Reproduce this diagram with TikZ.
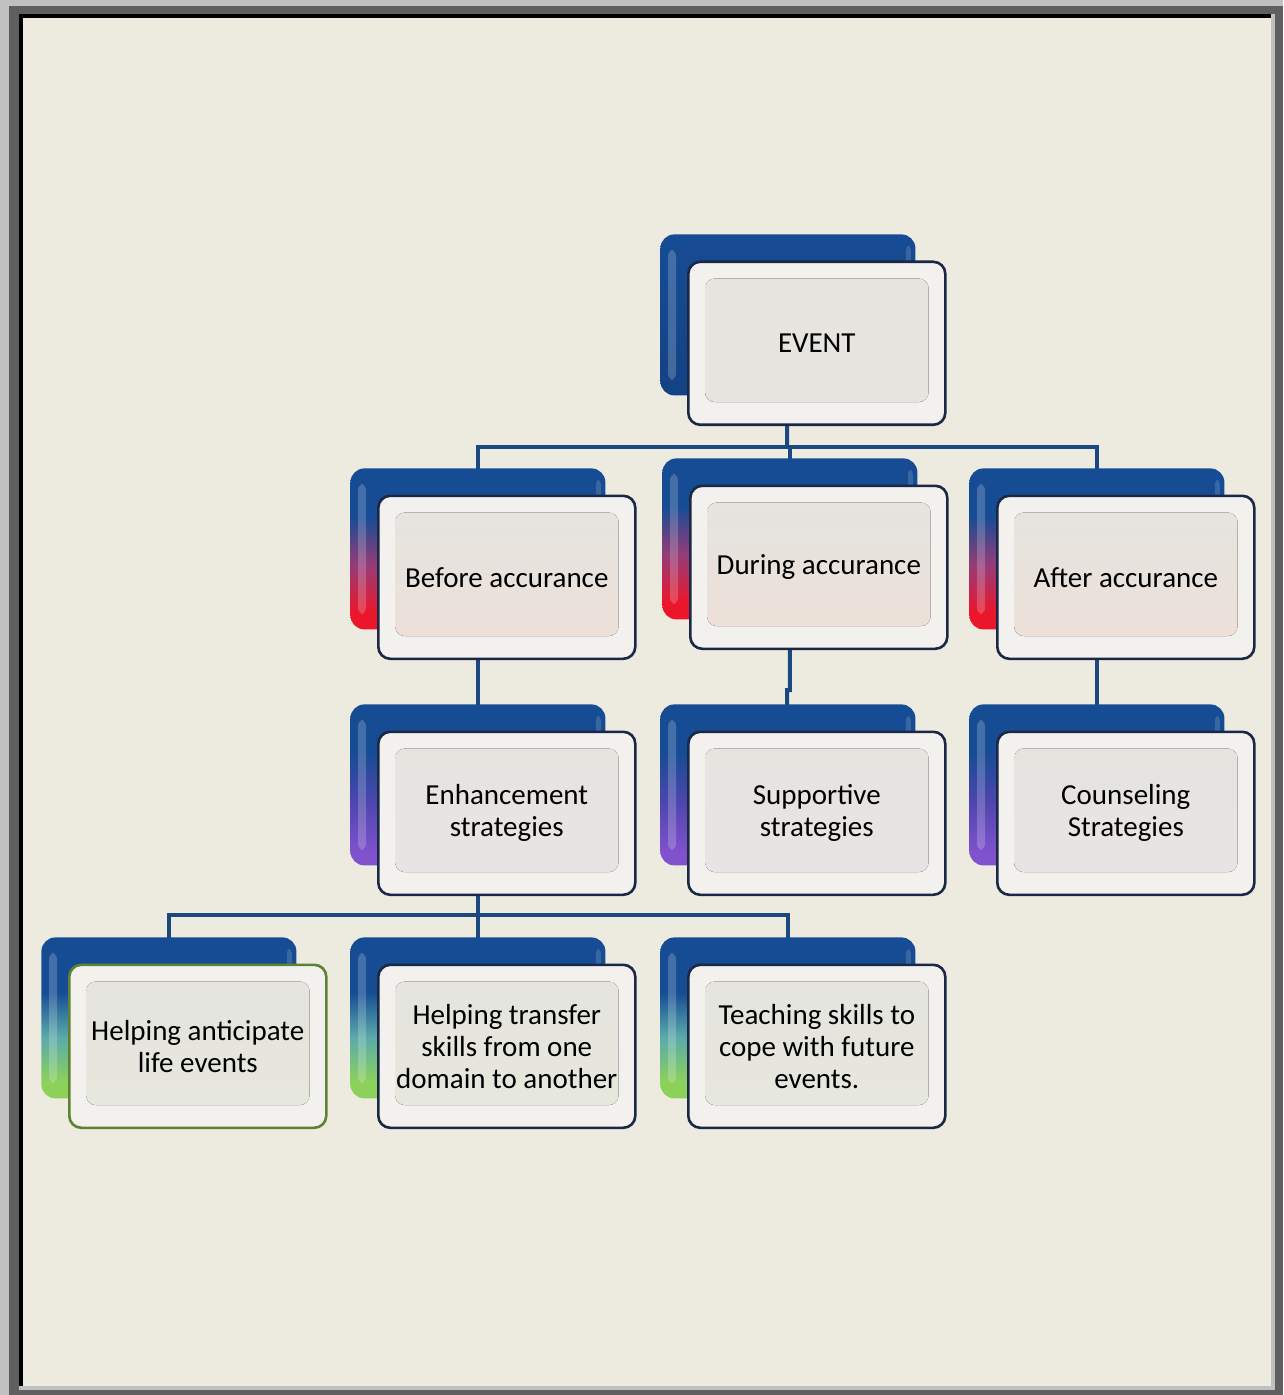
\documentclass[tikz,border=0pt]{standalone}
\usepackage{fontspec}
\setmainfont{Carlito}

\definecolor{pagebg}{RGB}{237,234,224}
\definecolor{frameDark}{RGB}{95,95,95}
\definecolor{frameLight}{RGB}{192,192,192}
\definecolor{linkblue}{RGB}{28,72,128}
\definecolor{tierblue}{RGB}{22,76,148}
\definecolor{tierdeep}{RGB}{20,66,132}
\definecolor{tierred}{RGB}{236,22,42}
\definecolor{tierredmid}{RGB}{150,60,120}
\definecolor{tierpurple}{RGB}{128,82,205}
\definecolor{tierpurplemid}{RGB}{80,70,175}
\definecolor{tiergreen}{RGB}{140,210,90}
\definecolor{tiergreenmid}{RGB}{90,170,170}
\definecolor{edgenavy}{RGB}{26,40,70}
\definecolor{edgegreen}{RGB}{95,130,50}
\definecolor{cardout}{RGB}{242,241,237}
\definecolor{cardin}{RGB}{229,228,223}
\definecolor{panelred}{RGB}{237,224,217}
\definecolor{panelpurple}{RGB}{232,228,229}
\definecolor{panelgreen}{RGB}{230,231,221}

% back-card shadings: blue on top, the tier colour below
% (the card's box spans 25bp..75bp of the shading)
\pgfdeclareverticalshading{tier-event}{100bp}{color(0bp)=(tierdeep); color(25bp)=(tierdeep);
  color(75bp)=(tierblue); color(100bp)=(tierblue)}
\pgfdeclareverticalshading{tier-red}{100bp}{color(0bp)=(tierred); color(30bp)=(tierred);
  color(45bp)=(tierredmid); color(60bp)=(tierblue); color(100bp)=(tierblue)}
\pgfdeclareverticalshading{tier-purple}{100bp}{color(0bp)=(tierpurple); color(29bp)=(tierpurple);
  color(44bp)=(tierpurplemid); color(60bp)=(tierblue); color(100bp)=(tierblue)}
\pgfdeclareverticalshading{tier-green}{100bp}{color(0bp)=(tiergreen); color(30bp)=(tiergreen);
  color(44bp)=(tiergreenmid); color(58bp)=(tierblue); color(100bp)=(tierblue)}

\pgfdeclarelayer{frame}
\pgfdeclarelayer{links}
\pgfsetlayers{frame,links,main}

\tikzset{
  backcard/.style={draw=none, rounded corners=7pt, minimum width=127.5pt,
    minimum height=80.5pt, anchor=north west, inner sep=0pt, shade, shading=#1},
  frontcard/.style={draw=#1, line width=1.3pt, rounded corners=6pt,
    minimum width=128.5pt, minimum height=81.5pt, anchor=north west,
    inner sep=0pt, top color=cardout, bottom color=cardout},
  cardtext/.style={align=center, font=\fontsize{14.5pt}{16pt}\selectfont,
    text=black, inner sep=0pt},
  link/.style={draw=linkblue, line width=2pt},
}

% one stacked card: name, left, top, back shading, edge colour of the
% front card, panel colour, text
\newcommand\tiercard[7]{%
  \node[backcard=#4] (#1b) at (#2,#3) {};
  \fill[white, opacity=0.2, rounded corners=3pt]
    ([shift={(4pt,-8pt)}]#1b.north west) rectangle ([shift={(8pt,8pt)}]#1b.south west);
  \fill[white, opacity=0.15, rounded corners=2pt]
    ([shift={(-5pt,-6pt)}]#1b.north east) rectangle ([shift={(-2.5pt,-20pt)}]#1b.north east);
  \node[frontcard=#5] (#1f) at ([shift={(13.5pt,-13.25pt)}]#1b.north west) {};
  \fill[rounded corners=5pt, top color=cardin, bottom color=#6]
    ([shift={(9pt,-9pt)}]#1f.north west) rectangle ([shift={(-9pt,12pt)}]#1f.south east);
  \node[cardtext] (#1t) at (#1f.center) {#7};
}

\begin{document}
\begin{tikzpicture}[x=0.5pt, y=-0.5pt]
  \useasboundingbox (0,0) rectangle (1283,1395);

  % page frame
  \begin{pgfonlayer}{frame}
    \fill[frameLight] (0,0) rectangle (1283,1395);
    \fill[frameDark] (9,6) rectangle (1283,1395);
    \fill[frameLight] (19,14) rectangle (1275,1390);
    \fill[black] (19,14) rectangle (1271,1386);
    \fill[pagebg] (23,18) rectangle (1271,1386);
  \end{pgfonlayer}

  % cards
  \tiercard{event}{660}{234}{tier-event}{edgenavy}{cardin}{EVENT}
  \tiercard{before}{350}{468}{tier-red}{edgenavy}{panelred}{Before accurance}
  \tiercard{during}{662}{458}{tier-red}{edgenavy}{panelred}{During accurance}
  \tiercard{after}{969}{468}{tier-red}{edgenavy}{panelred}{After accurance}
  \tiercard{enh}{350}{704}{tier-purple}{edgenavy}{panelpurple}{Enhancement\\strategies}
  \tiercard{supp}{660}{704}{tier-purple}{edgenavy}{panelpurple}{Supportive\\strategies}
  \tiercard{coun}{969}{704}{tier-purple}{edgenavy}{panelpurple}{Counseling\\Strategies}
  \tiercard{antic}{41}{937}{tier-green}{edgegreen}{panelgreen}{Helping anticipate\\life events}
  \tiercard{trans}{350}{937}{tier-green}{edgenavy}{panelgreen}{Helping transfer\\skills from one\\domain to another}
  \tiercard{teach}{660}{937}{tier-green}{edgenavy}{panelgreen}{Teaching skills to\\cope with future\\events.}

  % connectors, behind the cards
  \begin{pgfonlayer}{links}
    \coordinate (busA) at (787,447);
    \coordinate (jogD) at (787,690);
    \coordinate (busB) at (477,915);
    \draw[link] (eventb.center) -- (busA);
    \draw[link] (beforeb.center) |- (busA) -| (afterb.center);
    \draw[link] (busA) -| (duringb.center);
    \draw[link] (beforeb.center) -- (enhb.center);
    \draw[link] (duringb.center) |- (jogD) -- (suppb.center);
    \draw[link] (afterb.center) -- (counb.center);
    \draw[link] (anticb.center) |- (busB) -| (teachb.center);
    \draw[link] (enhb.center) -- (transb.center);
  \end{pgfonlayer}
\end{tikzpicture}
\end{document}
